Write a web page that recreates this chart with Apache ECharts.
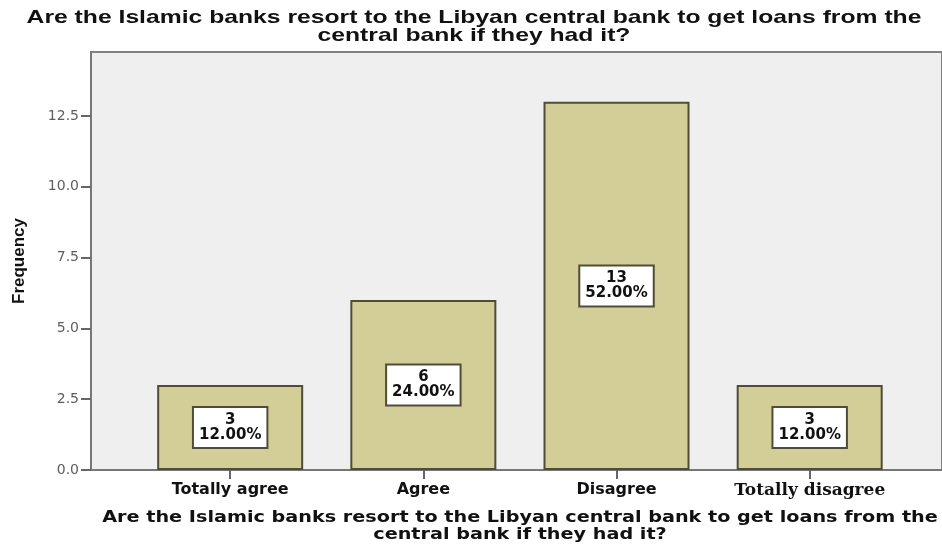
<!DOCTYPE html>
<html>
<head>
<meta charset="utf-8">
<script src="https://cdn.jsdelivr.net/npm/echarts@6/dist/echarts.min.js"></script>
<style>
  html, body { margin: 0; padding: 0; background: #ffffff; }
  #chart { width: 942px; height: 545px; }
</style>
</head>
<body>
<div id="chart"></div>
<script>
// Survey answers and their counts
const categories = ['Totally agree', 'Agree', 'Disagree', 'Totally disagree'];
const frequencies = [3, 6, 13, 3];
const yTicks = [0, 2.5, 5, 7.5, 10, 12.5];
const questionText = 'Are the Islamic banks resort to the Libyan central bank to get loans from the\ncentral bank if they had it?';

const total = frequencies.reduce((a, b) => a + b, 0);
const positions = categories.map((_, i) => i);

// Horizontal extent in category units: the plot frame starts left of the first bar
// and runs past the right edge of the canvas.
const X_MIN = -0.7205;
const X_MAX = 3.685;

const chart = echarts.init(document.getElementById('chart'), null, { renderer: 'canvas' });

chart.setOption({
  animation: false,
  backgroundColor: '#ffffff',
  graphic: [
    {
      // chart title, widened text
      type: 'text',
      x: 474,
      y: 9,
      scaleX: 1.3,
      style: {
        text: questionText,
        fontFamily: 'Liberation Sans',
        fontWeight: 'bold',
        fontSize: 19,
        lineHeight: 18,
        align: 'center',
        verticalAlign: 'top',
        fill: '#111111'
      }
    },
    {
      // horizontal axis title
      type: 'text',
      x: 520,
      y: 509,
      scaleX: 1.2,
      style: {
        text: questionText,
        fontFamily: 'DejaVu Sans',
        fontWeight: 'bold',
        fontSize: 16,
        lineHeight: 17,
        align: 'center',
        verticalAlign: 'top',
        fill: '#111111'
      }
    }
  ],
  grid: {
    show: true,
    left: 91,
    right: -5,
    top: 52,
    bottom: 75,
    backgroundColor: '#efefef',
    borderColor: '#808080',
    borderWidth: 2
  },
  xAxis: {
    type: 'value',
    min: X_MIN,
    max: X_MAX,
    axisLine: { show: true, lineStyle: { color: '#777777', width: 2 } },
    axisTick: {
      show: true,
      customValues: positions,
      length: 9,
      lineStyle: { color: '#666666', width: 2 }
    },
    axisLabel: {
      customValues: positions,
      margin: 12,
      formatter: v => {
        const name = categories[Math.round(v)];
        return name === 'Totally disagree' ? '{serif|' + name + '}' : '{sans|' + name + '}';
      },
      rich: {
        sans: { fontFamily: 'DejaVu Sans', fontWeight: 'bold', fontSize: 16, color: '#111111' },
        serif: { fontFamily: 'DejaVu Serif', fontWeight: 'bold', fontSize: 17, color: '#111111' }
      }
    },
    splitLine: { show: false }
  },
  yAxis: {
    type: 'value',
    min: 0,
    max: 14.76,
    interval: 2.5,
    name: 'Frequency',
    nameLocation: 'middle',
    nameGap: 63,
    nameTextStyle: {
      fontFamily: 'Liberation Sans',
      fontWeight: 'bold',
      fontSize: 17,
      color: '#111111'
    },
    axisLine: { show: true, onZero: false, lineStyle: { color: '#777777', width: 2 } },
    axisTick: {
      show: true,
      customValues: yTicks,
      length: 10,
      lineStyle: { color: '#666666', width: 2 }
    },
    axisLabel: {
      customValues: yTicks,
      margin: 12,
      fontFamily: 'DejaVu Sans',
      fontSize: 14,
      color: '#5e5e5e',
      formatter: v => v.toFixed(1)
    },
    splitLine: { show: false }
  },
  series: [{
    type: 'bar',
    barWidth: 146,
    data: frequencies.map((v, i) => [positions[i], v]),
    itemStyle: {
      color: '#d3ce98',
      borderColor: '#4f4d36',
      borderWidth: 2
    },
    label: {
      show: true,
      position: 'inside',
      formatter: p => p.value[1] + '\n' + (p.value[1] / total * 100).toFixed(2) + '%',
      fontFamily: 'DejaVu Sans',
      fontWeight: 'bold',
      fontSize: 15,
      lineHeight: 15,
      color: '#111111',
      backgroundColor: '#ffffff',
      borderColor: '#4f4d36',
      borderWidth: 2,
      padding: [5, 5, 4, 5],
      align: 'center'
    }
  }]
});
</script>
</body>
</html>
